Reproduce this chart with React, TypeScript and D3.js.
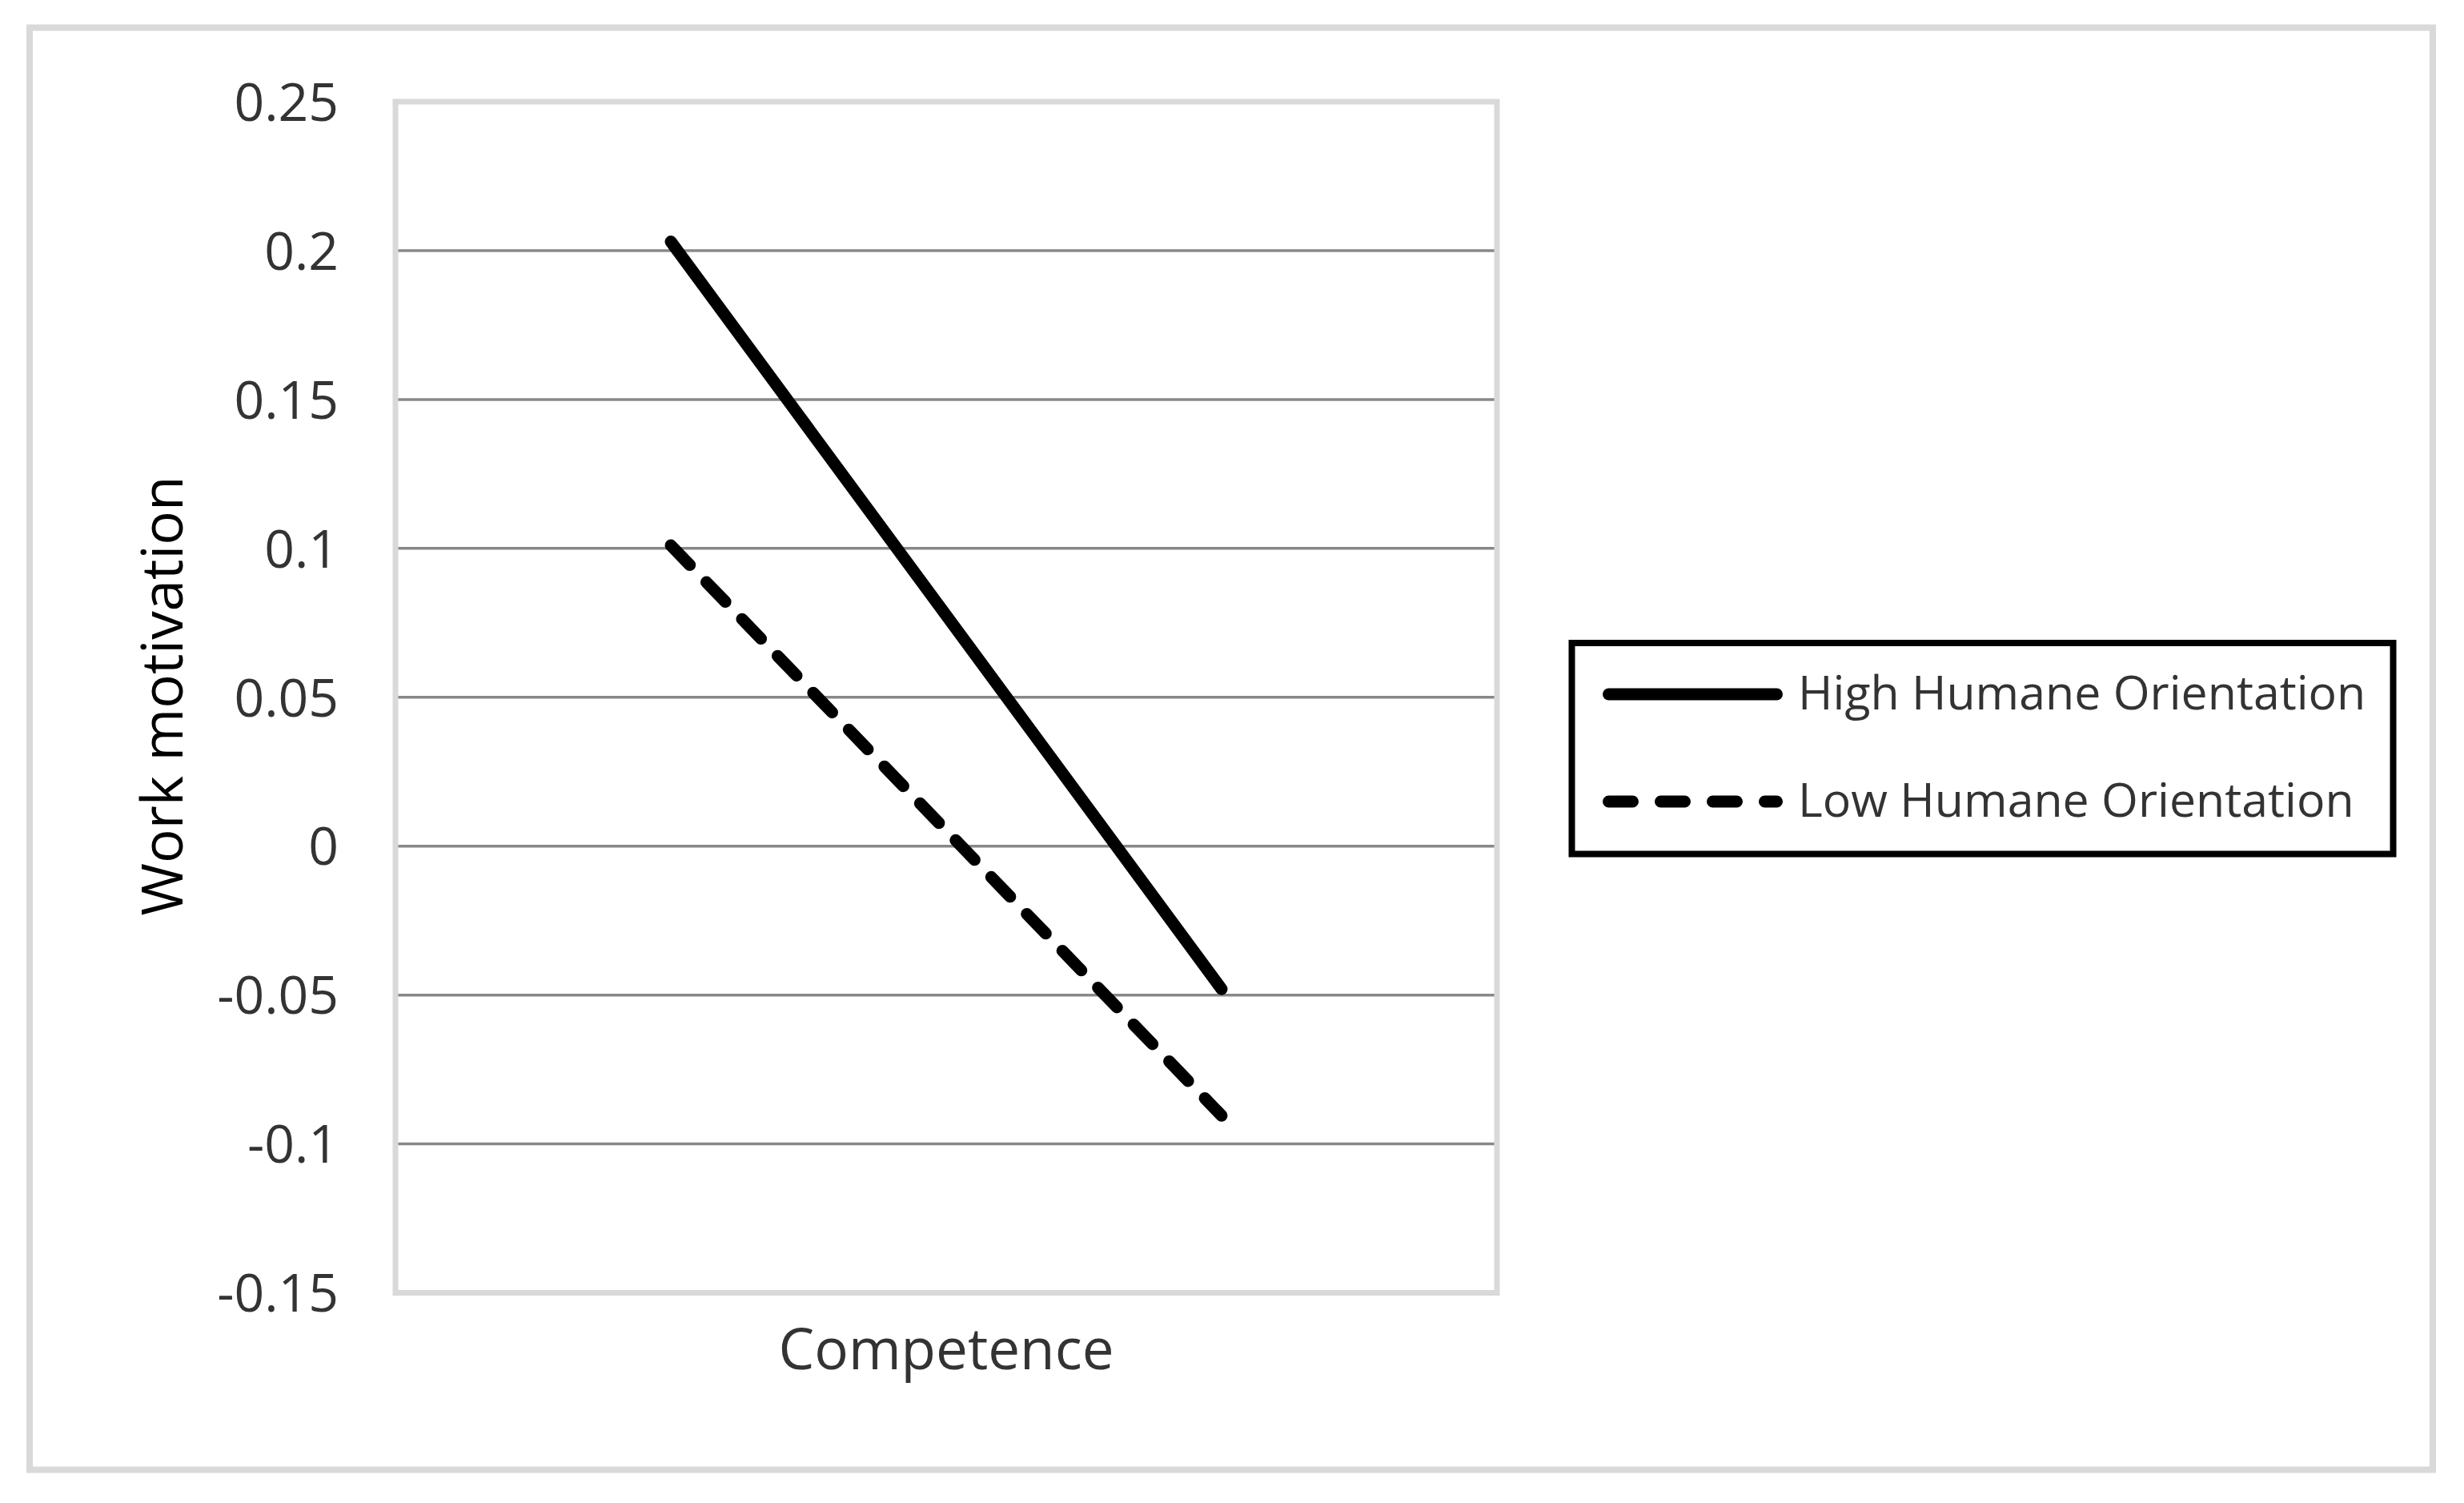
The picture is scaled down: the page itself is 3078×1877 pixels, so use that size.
import React from 'react'
import * as d3 from 'd3'

// competence levels (x has no tick labels, only the axis title)
const levels = ['Low', 'High']
const highHumane = [0.203, -0.048]
const lowHumane = [0.101, -0.0905]
const seriesNames = ['High Humane Orientation', 'Low Humane Orientation']
const yTicks = [0.25, 0.2, 0.15, 0.1, 0.05, 0, -0.05, -0.1, -0.15]

const W = 3078
const H = 1877

const App = () => {
  const plot = { left: 494, right: 1870, top: 127, bottom: 1614.5 }

  const x = d3.scalePoint<string>()
    .domain(levels)
    .range([plot.left, plot.right])
    .padding(0.5)

  const y = d3.scaleLinear()
    .domain([-0.15, 0.25])
    .range([plot.bottom, plot.top])

  const line = d3.line<number>()
    .x((d, i) => x(levels[i]) as number)
    .y(d => y(d))

  const series = [
    { name: seriesNames[0], values: highHumane, dash: undefined },
    { name: seriesNames[1], values: lowHumane, dash: '34 30' },
  ]
  const legendDash = [undefined, '30 35']

  const font = '"Open Sans", sans-serif'
  const textColor = '#333'
  const lineW = 15

  return (
    <svg width={W} height={H} style={{ position: 'absolute', left: 0, top: 0, display: 'block' }}>
      <rect x={0} y={0} width={W} height={H} fill="#fff" />
      <rect x={37} y={34.5} width={3002} height={1801} fill="#fff" stroke="#d9d9d9" strokeWidth={8} />

      {/* gridlines */}
      <g>
        {yTicks.filter(t => t !== 0.25 && t !== -0.15).map((t, i) => (
          <line key={i} x1={plot.left} x2={plot.right} y1={y(t)} y2={y(t)} stroke="#888" strokeWidth={3.5} />
        ))}
      </g>

      <rect x={plot.left} y={plot.top} width={plot.right - plot.left} height={plot.bottom - plot.top}
        fill="none" stroke="#d9d9d9" strokeWidth={7} />

      {/* y tick labels */}
      <g fontFamily={font} fontSize={66} fill={textColor} textAnchor="end">
        {yTicks.map((t, i) => (
          <text key={i} x={423} y={y(t)} dy="0.36em">{String(t)}</text>
        ))}
      </g>

      <text transform={`translate(228, 869) rotate(-90)`} textAnchor="middle" fontFamily={font}
        fontSize={71} fill="#000" fontWeight={500}>Work motivation</text>

      <text x={(plot.left + plot.right) / 2} y={1710} textAnchor="middle" fontFamily={font}
        fontSize={71} fill={textColor}>Competence</text>

      {series.map((s, i) => (
        <path key={i} d={line(s.values) || ''} fill="none" stroke="#000" strokeWidth={lineW}
          strokeLinecap="round" strokeDasharray={s.dash} />
      ))}

      {/* legend */}
      <rect x={1963.5} y={803} width={1026} height={263.5} fill="#fff" stroke="#000" strokeWidth={8} />
      {series.map((s, i) => {
        const ly = i === 0 ? 867 : 1001
        return (
          <g key={i}>
            <line x1={2009.5} x2={2219.5} y1={ly} y2={ly} stroke="#000" strokeWidth={lineW}
              strokeLinecap="round" strokeDasharray={legendDash[i]} />
            <text x={2246} y={ly + 19} fontFamily={font} fontSize={59} fill={textColor}>{s.name}</text>
          </g>
        )
      })}
    </svg>
  )
}

export default App
